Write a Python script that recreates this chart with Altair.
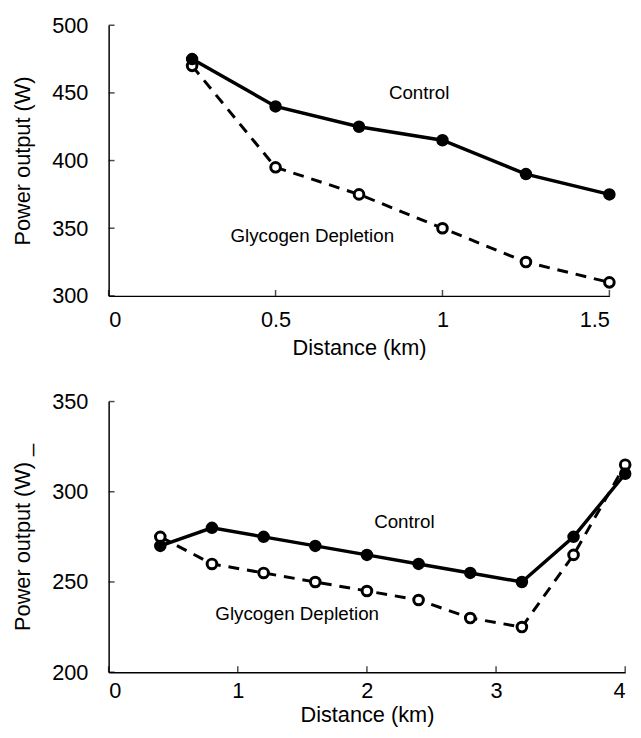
import altair as alt
import pandas as pd

# ---- data ----
top_dist = [0.25, 0.5, 0.75, 1.0, 1.25, 1.5]
top_control = [475, 440, 425, 415, 390, 375]
top_glyco = [470, 395, 375, 350, 325, 310]

bot_dist = [0.4, 0.8, 1.2, 1.6, 2.0, 2.4, 2.8, 3.2, 3.6, 4.0]
bot_control = [270, 280, 275, 270, 265, 260, 255, 250, 275, 310]
bot_glyco = [275, 260, 255, 250, 245, 240, 230, 225, 265, 315]

top_xticks = [0, 0.5, 1, 1.5]
top_yticks = [300, 350, 400, 450, 500]
bot_xticks = [0, 1, 2, 3, 4]
bot_yticks = [200, 250, 300, 350]

top_labels = ["Control", "Glycogen Depletion"]
top_label_x = [0.93, 0.61]
top_label_y = [450, 344]
bot_labels = ["Control", "Glycogen Depletion"]
bot_label_x = [2.29, 1.46]
bot_label_y = [283, 232]

FONT = "Liberation Sans"


def panel(dist, ctrl, glyco, xticks, yticks, xdom, ydom, lx, ly, labels, w, h, ytitle,
          xlabpad, xtitlepad):
    dc = pd.DataFrame({"d": dist, "p": ctrl})
    dg = pd.DataFrame({"d": dist, "p": glyco})
    xs = alt.Scale(domain=xdom, nice=False, zero=False)
    ys = alt.Scale(domain=ydom, nice=False, zero=False)
    xax = alt.Axis(values=xticks, ticks=False, labelPadding=xlabpad, title="Distance (km)",
                   titlePadding=xtitlepad, format="~g")
    yax = alt.Axis(values=yticks, ticks=False, labelPadding=21, title=ytitle,
                   titlePadding=17)
    x = alt.X("d:Q", scale=xs, axis=xax)
    y = alt.Y("p:Q", scale=ys, axis=yax)

    ctrl_line = alt.Chart(dc).mark_line(color="black", strokeWidth=3.5).encode(x=x, y=y)
    ctrl_pts = alt.Chart(dc).mark_point(filled=True, color="black", size=160, opacity=1).encode(x=x, y=y)
    gly_line = alt.Chart(dg).mark_line(color="black", strokeWidth=3, strokeDash=[11, 8]).encode(x=x, y=y)
    gly_pts = alt.Chart(dg).mark_point(filled=True, fill="white", stroke="black", strokeWidth=3,
                                       size=95, opacity=1).encode(x=x, y=y)

    lab = pd.DataFrame({"d": lx, "p": ly, "t": labels})
    text = alt.Chart(lab).mark_text(font=FONT, fontSize=19, color="black").encode(
        x=alt.X("d:Q", scale=xs), y=alt.Y("p:Q", scale=ys), text="t:N")

    xt = pd.DataFrame({"d": xticks, "p": [ydom[0]] * len(xticks)})
    xtick = alt.Chart(xt).mark_tick(color="black", orient="vertical", size=6, thickness=1.5,
                                    yOffset=-3).encode(
        x=alt.X("d:Q", scale=xs), y=alt.Y("p:Q", scale=ys))
    yt = pd.DataFrame({"d": [xdom[0]] * len(yticks), "p": yticks})
    ytick = alt.Chart(yt).mark_tick(color="black", orient="horizontal", size=6, thickness=1.5,
                                    xOffset=3).encode(
        x=alt.X("d:Q", scale=xs), y=alt.Y("p:Q", scale=ys))

    return alt.layer(gly_line, ctrl_line, gly_pts, ctrl_pts, text, xtick, ytick).properties(
        width=w, height=h)


top = panel(top_dist, top_control, top_glyco, top_xticks, top_yticks, [0, 1.5], [300, 500],
            top_label_x, top_label_y, top_labels, 507, 274, "Power output (W)", 14, 7)
bot = panel(bot_dist, bot_control, bot_glyco, bot_xticks, bot_yticks, [0, 4], [200, 350],
            bot_label_x, bot_label_y, bot_labels, 523, 274, "Power output (W) _", 9, 3)

chart = alt.vconcat(top, bot, spacing=33).properties(
    padding={"left": 12, "top": 10, "right": 5, "bottom": 2}
).configure_view(stroke=None).configure_axis(
    domainColor="black", domainWidth=1.5, grid=False,
    labelFont=FONT, labelFontSize=22, labelColor="black",
    titleFont=FONT, titleFontSize=22, titleFontWeight="normal", titleColor="black",
)

chart.save("out.html", embed_options={"renderer": "svg", "actions": False})
